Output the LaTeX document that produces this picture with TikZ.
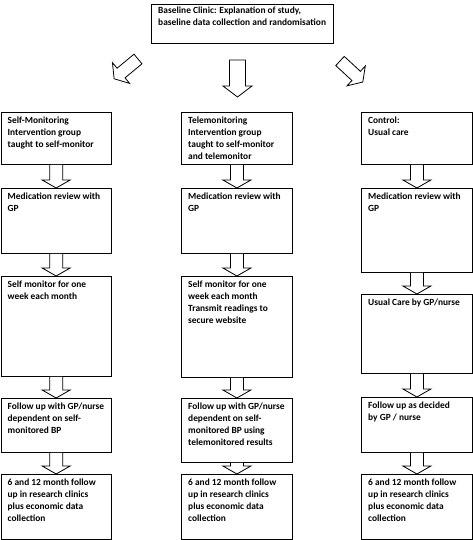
\documentclass[tikz,border=0pt]{standalone}
\usepackage{fontspec}
\setmainfont{Carlito}
\usetikzlibrary{calc}
\tikzset{
  box/.style={draw=black, line width=0.8pt, inner sep=0pt, anchor=north west},
  txt/.style={anchor=north west, inner sep=0pt, align=left, font=\fontsize{9.4}{11.8}\selectfont\bfseries},
  blk/.style={draw=black, line width=0.8pt, fill=white, line join=miter}
}
\newcommand\mkbox[6]{% name, x1, y1, x2, y2, text
  \node[box, minimum width=#4pt-#2pt, minimum height=#5pt-#3pt] (#1) at (#2,-#3) {};
  \node[txt] (#1t) at ($(#1.north west)+(7,-5)$) {#6};
}
\newcommand\varr[2]{%
  \draw[blk] let \p1=(#1.south), \p2=(#2.north) in
    (\x1-6.5pt,\y1) -- (\x1-6.5pt,\y2+8pt) -- (\x1-14pt,\y2+8pt) -- (\x1,\y2)
    -- (\x1+14pt,\y2+8pt) -- (\x1+6.5pt,\y2+8pt) -- (\x1+6.5pt,\y1);
}
\begin{document}
\begin{tikzpicture}[x=1pt,y=1pt]
\useasboundingbox (0,0) rectangle (473,-540);
% top
\node[box, minimum width=182pt, minimum height=39pt] (top) at (151,-4) {};
\node[txt] (topt) at ($(top.north west)+(7,-3)$) {Baseline Clinic: Explanation of study,\\baseline data collection and randomisation};
% left column
\mkbox{L1}{0.5}{112}{111}{164}{Self-Monitoring\\Intervention group\\taught to self-monitor}
\mkbox{L2}{0.5}{188}{111}{253}{Medication review with\\GP}
\mkbox{L3}{0.5}{276}{111}{376}{Self monitor for one\\week each month}
\mkbox{L4}{0.5}{398}{111}{452}{Follow up with GP/nurse\\dependent on self-\\monitored BP}
\mkbox{L5}{0.5}{474}{111}{539}{6 and 12 month follow\\up in research clinics\\plus economic data\\collection}
% middle column
\mkbox{M1}{181}{112}{292}{164}{Telemonitoring\\Intervention group\\taught to self-monitor\\and telemonitor}
\mkbox{M2}{181}{188}{292}{253}{Medication review with\\GP}
\mkbox{M3}{181}{276}{292}{377}{Self monitor for one\\week each month\\Transmit readings to\\secure website}
\mkbox{M4}{181}{398}{292}{462}{Follow up with GP/nurse\\dependent on self-\\monitored BP using\\telemonitored results}
\mkbox{M5}{181}{474}{292}{539}{6 and 12 month follow\\up in research clinics\\plus economic data\\collection}
% right column
\mkbox{R1}{361}{112}{472}{164}{Control:\\Usual care}
\mkbox{R2}{361}{188}{472}{272}{Medication review with\\GP}
\mkbox{R3}{361}{294}{472}{373}{Usual Care by GP/nurse}
\mkbox{R4}{361}{397}{472}{452}{Follow up as decided\\by GP / nurse}
\mkbox{R5}{361}{474}{472}{539}{6 and 12 month follow\\up in research clinics\\plus economic data\\collection}
% vertical arrows
\varr{L1}{L2}\varr{L2}{L3}\varr{L3}{L4}\varr{L4}{L5}
\varr{M1}{M2}\varr{M2}{M3}\varr{M3}{M4}\varr{M4}{M5}
\varr{R1}{R2}\varr{R2}{R3}\varr{R3}{R4}\varr{R4}{R5}
% top block arrows
\coordinate (la) at (138,-59);
\coordinate (ma) at (237.5,-60);
\coordinate (ra) at (340,-61);
\draw[blk, shift={(la)}, rotate=219.6] (0,-6.25) -- (22,-6.25) -- (22,-13.5) -- (31,0) -- (22,13.5) -- (22,6.25) -- (0,6.25) -- cycle;
\draw[blk, shift={(ma)}, rotate=-90] (0,-8) -- (26,-8) -- (26,-14.5) -- (37,0) -- (26,14.5) -- (26,8) -- (0,8) -- cycle;
\draw[blk, shift={(ra)}, rotate=-42.7] (0,-6.25) -- (22,-6.25) -- (22,-13.5) -- (31,0) -- (22,13.5) -- (22,6.25) -- (0,6.25) -- cycle;
\end{tikzpicture}
\end{document}
